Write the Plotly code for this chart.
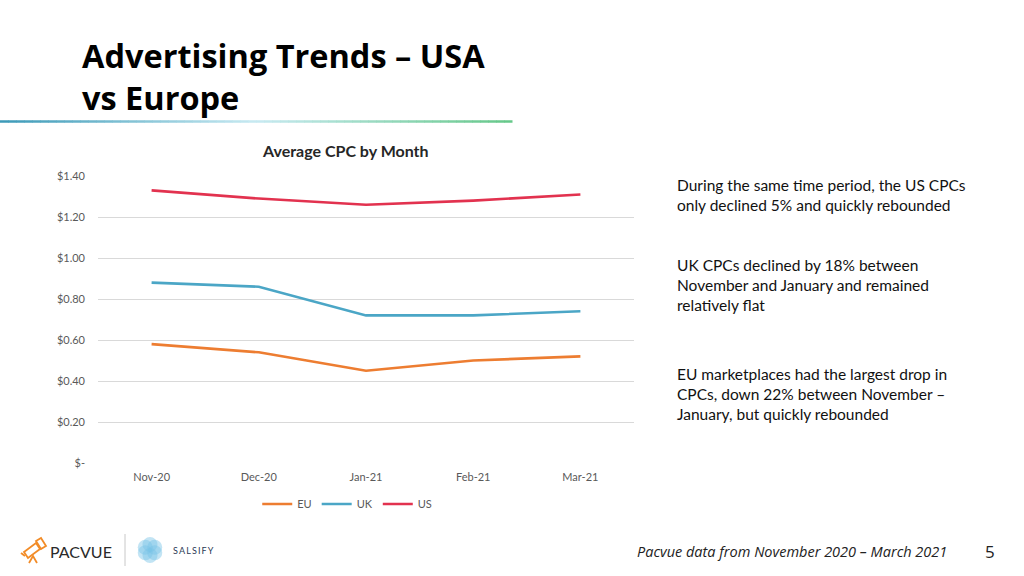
import plotly.graph_objects as go
import math

months = ["Nov-20", "Dec-20", "Jan-21", "Feb-21", "Mar-21"]
eu = [0.58, 0.54, 0.45, 0.50, 0.52]
uk = [0.88, 0.86, 0.72, 0.72, 0.74]
us = [1.33, 1.29, 1.26, 1.28, 1.31]
y_ticks = [0, 0.2, 0.4, 0.6, 0.8, 1.0, 1.2, 1.4]
y_tick_labels = ["$-", "$0.20", "$0.40", "$0.60", "$0.80", "$1.00", "$1.20", "$1.40"]

W, H = 1024, 576
L, R, T, B = 98, 634, 176, 463


def px(x):
    return (x - L) / (R - L)


def py(y):
    return (B - y) / (B - T)


fig = go.Figure()
for name, vals, col in [("EU", eu, "#ED7D31"), ("UK", uk, "#4BA6C6"), ("US", us, "#E2324F")]:
    fig.add_trace(go.Scatter(x=months, y=vals, name=name, mode="lines",
                             line=dict(color=col, width=2.6)))

shapes = []
# gradient rule under title
n = 64
stops = [(0.0, (61, 154, 184)), (0.5, (200, 234, 242)), (1.0, (102, 200, 138))]


def grad(t):
    for (a, ca), (b, cb) in zip(stops, stops[1:]):
        if a <= t <= b:
            f = (t - a) / (b - a)
            return "rgb(%d,%d,%d)" % tuple(round(ca[i] + (cb[i] - ca[i]) * f) for i in range(3))
    return "rgb(102,200,138)"


x0, x1 = 0, 512
for i in range(n):
    xa = x0 + (x1 - x0) * i / n
    xb = x0 + (x1 - x0) * (i + 1) / n + 0.5
    shapes.append(dict(type="line", xref="paper", yref="paper",
                       x0=px(xa), x1=px(xb), y0=py(121.5), y1=py(121.5),
                       line=dict(color=grad(i / (n - 1)), width=2.5)))

# footer separator
shapes.append(dict(type="line", xref="paper", yref="paper", x0=px(125), x1=px(125),
                   y0=py(534), y1=py(566), line=dict(color="#C8C8C8", width=1)))

# salsify flower
cx, cy = 150, 550
for k in range(6):
    a = math.pi / 6 + k * math.pi / 3
    ox, oy = cx + 5.5 * math.cos(a), cy + 5.5 * math.sin(a)
    r = 7.5
    shapes.append(dict(type="circle", xref="paper", yref="paper",
                       x0=px(ox - r), x1=px(ox + r), y0=py(oy + r), y1=py(oy - r),
                       fillcolor="rgba(120,195,230,0.45)", line=dict(width=0)))


def P(x, y):
    return "%f,%f" % (px(x), py(y))


# pacvue telescope icon (outline)
tele = ("M " + P(24, 552) + " L " + P(36, 543) + " L " + P(40, 549) + " L " + P(28, 558) + " Z")
shapes.append(dict(type="path", xref="paper", yref="paper", path=tele,
                   line=dict(color="#F28C28", width=1.8)))
shapes.append(dict(type="path", xref="paper", yref="paper",
                   path="M " + P(36, 541) + " L " + P(41, 538) + " L " + P(46, 546) + " L " + P(41, 549) + " Z",
                   line=dict(color="#F28C28", width=1.8)))
shapes.append(dict(type="path", xref="paper", yref="paper",
                   path="M " + P(29, 563) + " L " + P(33, 556) + " L " + P(37, 563),
                   line=dict(color="#F28C28", width=1.8)))
shapes.append(dict(type="line", xref="paper", yref="paper", x0=px(21), x1=px(25),
                   y0=py(553), y1=py(556), line=dict(color="#F28C28", width=1.8)))

ann = []
ann.append(dict(text="<b>Advertising Trends – USA<br>vs Europe</b>", xref="paper", yref="paper",
                x=px(80), y=py(31), xanchor="left", yanchor="top", align="left", showarrow=False,
                font=dict(family="Open Sans", size=32.5, color="#000000")))
ann.append(dict(text="<b>Average CPC by Month</b>", xref="paper", yref="paper",
                x=px(345), y=py(150), xanchor="center", yanchor="middle", showarrow=False,
                font=dict(family="Lato", size=16, color="#262626")))
right_texts = [
    (174, "During the same time period, the US CPCs<br>only declined 5% and quickly rebounded"),
    (254, "UK CPCs declined by 18% between<br>November and January and remained<br>relatively flat"),
    (363, "EU marketplaces had the largest drop in<br>CPCs, down 22% between November –<br>January, but quickly rebounded"),
]
for ytop, t in right_texts:
    ann.append(dict(text=t, xref="paper", yref="paper", x=px(675), y=py(ytop),
                    xanchor="left", yanchor="top", align="left", showarrow=False,
                    font=dict(family="Lato", size=15.5, color="#111111")))
ann.append(dict(text="PACVUE", xref="paper", yref="paper", x=px(48), y=py(551),
                xanchor="left", yanchor="middle", showarrow=False,
                font=dict(family="Lato", size=16, color="#2a2a2a")))
ann.append(dict(text="S\u2009A\u2009L\u2009S\u2009I\u2009F\u2009Y", xref="paper", yref="paper",
                x=px(171), y=py(550), xanchor="left", yanchor="middle", showarrow=False,
                font=dict(family="Lato", size=9, color="#2B3A55")))
ann.append(dict(text="<i>Pacvue data from November 2020 – March 2021</i>", xref="paper", yref="paper",
                x=px(949), y=py(551), xanchor="right", yanchor="middle", showarrow=False,
                font=dict(family="Open Sans", size=14.5, color="#222222")))
ann.append(dict(text="5", xref="paper", yref="paper", x=px(990), y=py(551),
                xanchor="center", yanchor="middle", showarrow=False,
                font=dict(family="Open Sans", size=17, color="#222222")))

fig.update_layout(
    width=W, height=H,
    margin=dict(l=L, r=W - R, t=T, b=H - B),
    paper_bgcolor="white", plot_bgcolor="white",
    showlegend=True,
    legend=dict(orientation="h", x=0.465, xanchor="center", y=py(504), yanchor="middle",
                font=dict(family="Lato", size=11, color="#595959"), itemwidth=30,
                tracegroupgap=0),
    xaxis=dict(type="category", range=[-0.5, 4.5], showgrid=False, showline=False,
               zeroline=False, ticks="",
               tickfont=dict(family="Lato", size=11, color="#595959"), ticklabelstandoff=6),
    yaxis=dict(range=[0, 1.4], tickvals=y_ticks, ticktext=y_tick_labels,
               showgrid=True, gridcolor="#D9D9D9", gridwidth=1, zeroline=False,
               showline=False, ticks="", ticklabelstandoff=12,
               tickfont=dict(family="Lato", size=11, color="#595959")),
    shapes=shapes, annotations=ann,
)
fig.write_html("out.html", config={"displayModeBar": False},
               post_script="document.body.style.margin='0';document.body.style.overflow='hidden';")
